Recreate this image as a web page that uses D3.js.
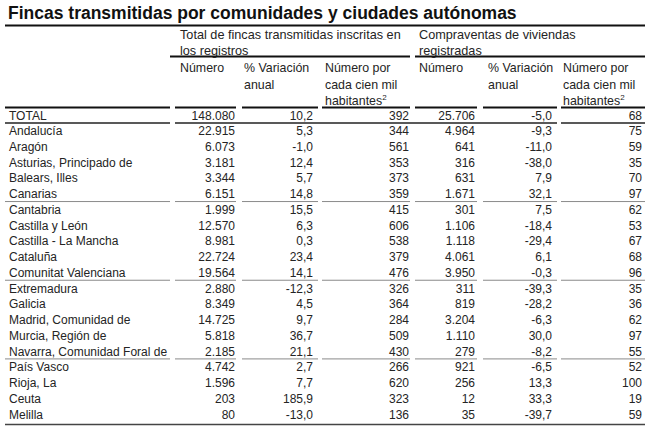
<!DOCTYPE html>
<html>
<head>
<meta charset="utf-8">
<script src="https://cdn.jsdelivr.net/npm/d3@7"></script>
<style>
  html, body { margin: 0; padding: 0; background: #fff; }
  svg { display: block; font-family: "Liberation Sans", Arial, sans-serif; }
</style>
</head>
<body>
<svg id="chart" width="650" height="434"></svg>
<script>
// ---------- DATA ----------
const title = "Fincas transmitidas por comunidades y ciudades autónomas";
const groupHeaders = [
  ["Total de fincas transmitidas inscritas en", "los registros"],
  ["Compraventas de viviendas", "registradas"]
];
const columnHeaders = [
  ["Número"],
  ["% Variación", "anual"],
  ["Número por", "cada cien mil", "habitantes"],
  ["Número"],
  ["% Variación", "anual"],
  ["Número por", "cada cien mil", "habitantes"]
];
const regions = [
  "TOTAL", "Andalucía", "Aragón", "Asturias, Principado de", "Balears, Illes",
  "Canarias", "Cantabria", "Castilla y León", "Castilla - La Mancha", "Cataluña",
  "Comunitat Valenciana", "Extremadura", "Galicia", "Madrid, Comunidad de",
  "Murcia, Región de", "Navarra, Comunidad Foral de", "País Vasco", "Rioja, La",
  "Ceuta", "Melilla"
];
const fincasNumero = [148080, 22915, 6073, 3181, 3344, 6151, 1999, 12570, 8981, 22724,
  19564, 2880, 8349, 14725, 5818, 2185, 4742, 1596, 203, 80];
const fincasVariacion = [10.2, 5.3, -1.0, 12.4, 5.7, 14.8, 15.5, 6.3, 0.3, 23.4,
  14.1, -12.3, 4.5, 9.7, 36.7, 21.1, 2.7, 7.7, 185.9, -13.0];
const fincasPorCienMil = [392, 344, 561, 353, 373, 359, 415, 606, 538, 379,
  476, 326, 364, 284, 509, 430, 266, 620, 323, 136];
const viviendasNumero = [25706, 4964, 641, 316, 631, 1671, 301, 1106, 1118, 4061,
  3950, 311, 819, 3204, 1110, 279, 921, 256, 12, 35];
const viviendasVariacion = [-5.0, -9.3, -11.0, -38.0, 7.9, 32.1, 7.5, -18.4, -29.4, 6.1,
  -0.3, -39.3, -28.2, -6.3, 30.0, -8.2, -6.5, 13.3, 33.3, -39.7];
const viviendasPorCienMil = [68, 75, 59, 35, 70, 97, 62, 53, 67, 68,
  96, 35, 36, 62, 97, 55, 52, 100, 19, 59];
// rows after which a thin separator is drawn
const separatorsAfter = ["Canarias", "Comunitat Valenciana", "Navarra, Comunidad Foral de"];

// ---------- FORMAT ----------
const es = d3.formatLocale({ decimal: ",", thousands: ".", grouping: [3], currency: ["", " €"], minus: "-" });
const fmtInt = es.format(",d");
const fmtDec = es.format(",.1f");

const columns = [
  { values: fincasNumero, fmt: fmtInt },
  { values: fincasVariacion, fmt: fmtDec },
  { values: fincasPorCienMil, fmt: fmtInt },
  { values: viviendasNumero, fmt: fmtInt },
  { values: viviendasVariacion, fmt: fmtDec },
  { values: viviendasPorCienMil, fmt: fmtInt }
];

// ---------- LAYOUT ----------
const svg = d3.select("#chart");
const ink = "#242424";
const FS = 12;

// column extents (left, right) through ordinal scales
const colIdx = d3.range(columns.length);
const colLeft = d3.scaleOrdinal().domain(colIdx).range([175, 242, 322, 415, 483, 561]);
const colRight = d3.scaleOrdinal().domain(colIdx).range([236, 318, 410, 477, 557, 645]);
const textRight = d3.scaleOrdinal().domain(colIdx).range([235, 313, 409, 475, 552, 642]);
const headLeft = d3.scaleOrdinal().domain(colIdx).range([180, 244, 325, 419, 488, 563]);
const labelLeft = 5, labelRight = 170, labelX = 9;

// row baseline scale
const y = d3.scaleLinear().domain([0, regions.length - 1]).range([119.5, 418.5]);

// ---------- TITLE ----------
svg.append("text")
  .attr("x", 8).attr("y", 19)
  .attr("font-size", 17.5).attr("font-weight", "bold")
  .attr("fill", "#111")
  .text(title);
svg.append("line")
  .attr("x1", 5).attr("x2", 645).attr("y1", 25.5).attr("y2", 25.5)
  .attr("stroke", "#111").attr("stroke-width", 2);

// ---------- GROUP HEADERS ----------
const groupSpan = [[0, 2], [3, 5]];
groupHeaders.forEach((lines, g) => {
  const x0 = g === 0 ? labelRight : colLeft(groupSpan[g][0]);
  const x1 = colRight(groupSpan[g][1]);
  lines.forEach((t, i) => {
    svg.append("text")
      .attr("x", headLeft(groupSpan[g][0])).attr("y", 39 + i * 15.5)
      .attr("font-size", 12.7).attr("fill", ink)
      .text(t);
  });
  svg.append("line")
    .attr("x1", x0).attr("x2", x1).attr("y1", 56.5).attr("y2", 56.5)
    .attr("stroke", "#111").attr("stroke-width", 2);
});

// ---------- COLUMN HEADERS ----------
columnHeaders.forEach((lines, c) => {
  lines.forEach((t, i) => {
    const tx = svg.append("text")
      .attr("x", headLeft(c)).attr("y", 72 + i * 16.5)
      .attr("font-size", 12.4).attr("fill", ink);
    tx.append("tspan").text(t);
    if (t === "habitantes") {
      tx.append("tspan").attr("dy", -5).attr("font-size", 8).text("2");
    }
  });
});

// ---------- RULES ----------
function segLine(yPos, segs, color, width) {
  svg.append("g").selectAll("line").data(segs).join("line")
    .attr("x1", d => d[0]).attr("x2", d => d[1])
    .attr("y1", yPos).attr("y2", yPos)
    .attr("stroke", color).attr("stroke-width", width);
}
const allSegs = [[labelLeft, labelRight]].concat(colIdx.map(c => [colLeft(c), colRight(c)]));
// above TOTAL
segLine(107.5, allSegs, "#111", 2);
// below TOTAL
segLine(123, [[labelLeft, labelRight], [colLeft(0), colRight(4)], [colLeft(5), colRight(5)]], "#222", 1.5);
// group separators
separatorsAfter.forEach(name => {
  const i = regions.indexOf(name);
  segLine((y(i) + y(i + 1)) / 2 - 4.5, allSegs, "#8a8a8a", 1);
});
// bottom rule
segLine(424.5, [[labelLeft, colRight(5)]], "#444", 1.5);

// ---------- BODY ----------
const rows = svg.append("g").selectAll("g").data(regions).join("g")
  .attr("transform", (d, i) => `translate(0,${y(i)})`);
rows.append("text")
  .attr("x", labelX).attr("font-size", FS).attr("fill", ink)
  .text(d => d);
columns.forEach((col, c) => {
  rows.append("text")
    .attr("x", textRight(c)).attr("text-anchor", "end")
    .attr("font-size", FS).attr("fill", ink)
    .text((d, i) => col.fmt(col.values[i]));
});
</script>
</body>
</html>
